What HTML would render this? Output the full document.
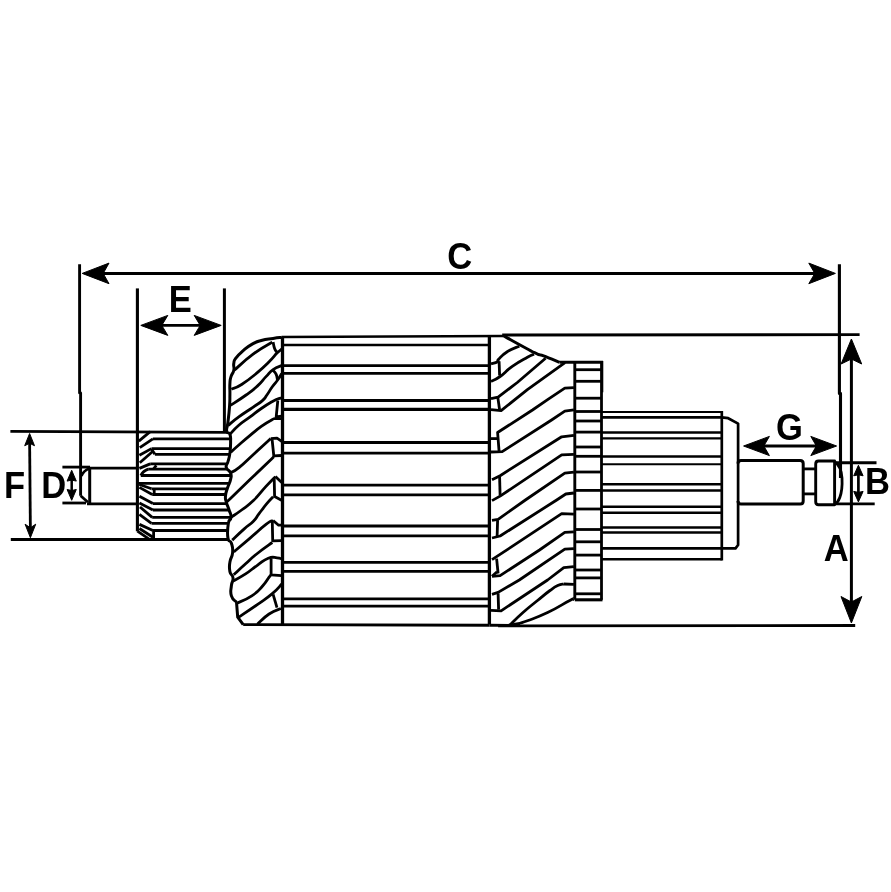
<!DOCTYPE html>
<html><head><meta charset="utf-8"><title>Armature dimensions</title>
<style>
html,body{margin:0;padding:0;background:#fff;}
body{width:891px;height:892px;overflow:hidden;}
svg{display:block;filter:grayscale(1);}
svg text{font-family:"Liberation Sans",Arial,Helvetica,sans-serif;font-weight:bold;}
</style></head><body>
<svg width="891" height="892" viewBox="0 0 891 892" stroke="#000" fill="none" stroke-linecap="butt" stroke-linejoin="round">
<rect x="0" y="0" width="891" height="892" fill="#fff" stroke="none"/>
<path d="M79.6,264.3 L79.6,393 L80.6,393 L80.6,495.8" stroke-width="2.9" fill="none" />
<line x1="95" y1="273.4" x2="822" y2="273.4" stroke-width="3.0" />
<polygon points="82.2,273.4 109.0,263.09999999999997 103.2,273.4 109.0,283.7" fill="#000" stroke="#000" stroke-width="1" stroke-linejoin="round"/>
<polygon points="835.4,273.4 808.8,263.09999999999997 814.8,273.4 808.8,283.7" fill="#000" stroke="#000" stroke-width="1" stroke-linejoin="round"/>
<path d="M839.4,264.2 L839.4,393.4 L840.5,393.4 L840.5,478" stroke-width="3.1" fill="none" />
<line x1="137.4" y1="288.4" x2="137.4" y2="531.3" stroke-width="3.1" />
<line x1="224.4" y1="288.4" x2="224.4" y2="431" stroke-width="3.0" />
<line x1="155" y1="325.4" x2="207" y2="325.4" stroke-width="2.8" />
<polygon points="140.8,325.4 167.8,315.4 161.8,325.4 167.8,335.4" fill="#000" stroke="#000" stroke-width="1" stroke-linejoin="round"/>
<polygon points="221.2,325.4 194.2,315.4 200.2,325.4 194.2,335.4" fill="#000" stroke="#000" stroke-width="1" stroke-linejoin="round"/>
<line x1="10.4" y1="431.4" x2="227" y2="432.4" stroke-width="2.8" />
<line x1="10.8" y1="539.5" x2="228" y2="539.5" stroke-width="3.1" />
<line x1="29.6" y1="440" x2="30.4" y2="531" stroke-width="2.8" />
<polygon points="29.6,433.5 24.700000000000003,445.7 29.6,443.3 34.5,445.7" fill="#000" stroke="#000" stroke-width="1" stroke-linejoin="round"/>
<polygon points="30.4,537.7 25.099999999999998,524.2 30.4,527.8000000000001 35.699999999999996,524.2" fill="#000" stroke="#000" stroke-width="1" stroke-linejoin="round"/>
<line x1="62.4" y1="467.1" x2="90" y2="467.1" stroke-width="2.8" />
<line x1="62.4" y1="503" x2="86" y2="503" stroke-width="2.8" />
<line x1="89" y1="468.2" x2="137.4" y2="468.2" stroke-width="2.8" />
<line x1="87" y1="503.8" x2="137.4" y2="503.8" stroke-width="2.8" />
<line x1="71.7" y1="476" x2="71.7" y2="495" stroke-width="2.5" />
<polygon points="71.7,470.3 67.10000000000001,481.1 71.7,480.1 76.3,481.1" fill="#000" stroke="#000" stroke-width="1" stroke-linejoin="round"/>
<polygon points="71.7,500.3 67.10000000000001,489.5 71.7,490.5 76.3,489.5" fill="#000" stroke="#000" stroke-width="1" stroke-linejoin="round"/>
<line x1="502.2" y1="335" x2="859.6" y2="334.6" stroke-width="2.9" />
<line x1="498.1" y1="625.9" x2="855.2" y2="625.5" stroke-width="2.9" />
<line x1="851.4" y1="355" x2="851.4" y2="605" stroke-width="3.0" />
<polygon points="851.4,339 841.1,364 851.4,359 861.6999999999999,364" fill="#000" stroke="#000" stroke-width="1" stroke-linejoin="round"/>
<polygon points="851.4,623 841.0,596.5 851.4,602.0 861.8,596.5" fill="#000" stroke="#000" stroke-width="1" stroke-linejoin="round"/>
<line x1="834" y1="462.7" x2="876.5" y2="462.7" stroke-width="2.9" />
<line x1="834" y1="503.9" x2="874.7" y2="503.9" stroke-width="2.9" />
<line x1="858.4" y1="472" x2="858.4" y2="495" stroke-width="2.7" />
<polygon points="858.4,465.3 853.6999999999999,475.8 858.4,474.8 863.1,475.8" fill="#000" stroke="#000" stroke-width="1" stroke-linejoin="round"/>
<polygon points="858.4,501.9 853.6999999999999,491.4 858.4,492.4 863.1,491.4" fill="#000" stroke="#000" stroke-width="1" stroke-linejoin="round"/>
<line x1="760" y1="446" x2="820" y2="446" stroke-width="2.9" />
<polygon points="743.6,446 769.4,436.4 763.8000000000001,446 769.4,455.6" fill="#000" stroke="#000" stroke-width="1" stroke-linejoin="round"/>
<polygon points="836.6,446 810.8000000000001,436.4 816.4,446 810.8000000000001,455.6" fill="#000" stroke="#000" stroke-width="1" stroke-linejoin="round"/>
<path d="M80.6,495.8 L88,502.3" stroke-width="2.8" fill="none" />
<path d="M89.6,468.5 Q83.5,470.5 81.4,476" stroke-width="2.7" fill="none" />
<line x1="89.7" y1="467.5" x2="89.7" y2="504" stroke-width="3.0" />
<line x1="152.9" y1="438.8" x2="230.3" y2="438.8" stroke-width="2.8" />
<line x1="151.5" y1="448.6" x2="230.2" y2="448.6" stroke-width="2.8" />
<line x1="154.9" y1="454.3" x2="229.6" y2="454.3" stroke-width="2.8" />
<line x1="150.2" y1="463.9" x2="227.0" y2="463.9" stroke-width="2.8" />
<line x1="148.2" y1="469.1" x2="227.3" y2="469.1" stroke-width="2.8" />
<line x1="140.8" y1="475.5" x2="230.6" y2="475.5" stroke-width="2.8" />
<line x1="137.4" y1="483.4" x2="229.2" y2="483.4" stroke-width="2.8" />
<line x1="151.5" y1="488.8" x2="227.3" y2="488.8" stroke-width="2.8" />
<line x1="152.2" y1="494.5" x2="225.8" y2="494.5" stroke-width="2.8" />
<line x1="152.9" y1="503.6" x2="226.8" y2="503.6" stroke-width="2.8" />
<line x1="152.9" y1="510" x2="229.1" y2="510" stroke-width="2.8" />
<line x1="152.2" y1="517.4" x2="231.0" y2="517.4" stroke-width="2.8" />
<line x1="151.5" y1="523.4" x2="228.4" y2="523.4" stroke-width="2.8" />
<line x1="152.9" y1="530.5" x2="228.1" y2="530.5" stroke-width="2.8" />
<line x1="150.2" y1="431.7" x2="138.8" y2="441.2" stroke-width="2.8" />
<line x1="152.9" y1="438.8" x2="139.8" y2="447.6" stroke-width="2.8" />
<line x1="151.5" y1="448.6" x2="139.4" y2="455.3" stroke-width="2.8" />
<line x1="151.5" y1="449" x2="154.9" y2="454.3" stroke-width="2.8" />
<line x1="152.9" y1="451.3" x2="139.8" y2="462.7" stroke-width="2.8" />
<line x1="150.2" y1="463.9" x2="139.4" y2="468.4" stroke-width="2.8" />
<line x1="156.3" y1="465.4" x2="153.6" y2="468.8" stroke-width="2.8" />
<line x1="151.5" y1="488.8" x2="139.4" y2="484.5" stroke-width="2.8" />
<line x1="154.2" y1="488.8" x2="154.2" y2="494.5" stroke-width="2.8" />
<line x1="152.2" y1="494.5" x2="139.4" y2="487.4" stroke-width="2.8" />
<line x1="152.9" y1="503.6" x2="139.4" y2="496.2" stroke-width="2.8" />
<line x1="152.9" y1="510" x2="139.4" y2="502.9" stroke-width="2.8" />
<line x1="152.2" y1="517.4" x2="140" y2="507" stroke-width="2.8" />
<line x1="151.5" y1="523.4" x2="139.4" y2="514.3" stroke-width="2.8" />
<line x1="152.9" y1="530.5" x2="139.4" y2="524.4" stroke-width="2.8" />
<line x1="137.4" y1="531.2" x2="149.5" y2="539.3" stroke-width="2.8" />
<line x1="139.4" y1="528.5" x2="152.9" y2="537.2" stroke-width="2.8" />
<line x1="153.6" y1="530.5" x2="153.6" y2="539.3" stroke-width="2.8" />
<path d="M148.2,469.1 Q143,471 140.8,475.5" stroke-width="2.8" fill="none" />
<line x1="282.5" y1="336.8" x2="282.5" y2="624.4" stroke-width="3.3" />
<line x1="489.4" y1="336.8" x2="489.4" y2="624.4" stroke-width="3.3" />
<line x1="281.5" y1="337.0" x2="503" y2="336.0" stroke-width="2.5" />
<line x1="243.2" y1="624.6" x2="489.4" y2="625.2" stroke-width="2.9" />
<line x1="489.4" y1="625.2" x2="520" y2="625.4" stroke-width="2.9" />
<line x1="282.5" y1="344.9" x2="489.4" y2="344.9" stroke-width="2.5" />
<line x1="282.5" y1="365.6" x2="489.4" y2="365.6" stroke-width="2.9" />
<line x1="282.5" y1="373.3" x2="489.4" y2="373.3" stroke-width="2.8" />
<line x1="282.5" y1="400.4" x2="489.4" y2="400.4" stroke-width="3.0" />
<line x1="282.5" y1="409.4" x2="489.4" y2="409.4" stroke-width="3.1" />
<line x1="282.5" y1="442.4" x2="489.4" y2="442.4" stroke-width="3.0" />
<line x1="282.5" y1="453.1" x2="489.4" y2="453.1" stroke-width="2.8" />
<line x1="282.5" y1="485.1" x2="489.4" y2="485.1" stroke-width="2.9" />
<line x1="282.5" y1="494.9" x2="489.4" y2="494.9" stroke-width="2.7" />
<line x1="282.5" y1="526" x2="489.4" y2="526" stroke-width="2.9" />
<line x1="282.5" y1="535.9" x2="489.4" y2="535.9" stroke-width="2.8" />
<line x1="282.5" y1="562.4" x2="489.4" y2="562.4" stroke-width="2.9" />
<line x1="282.5" y1="571.4" x2="489.4" y2="571.4" stroke-width="2.8" />
<line x1="282.5" y1="598.8" x2="489.4" y2="598.8" stroke-width="2.8" />
<line x1="282.5" y1="606.2" x2="489.4" y2="606.2" stroke-width="2.8" />
<path d="M281.7,337.4 C279.26,337.71 278.88,337.62 273.1,338.5 C267.32,339.38 267.34,338.83 261.3,340.5 C255.27,342.17 256.93,341.51 251.8,344.4 C246.67,347.29 247.65,346.90 243.2,350.7 C238.75,354.50 238.76,354.23 236.1,357.8 C233.44,361.37 234.45,359.76 233.8,363.3 C233.15,366.84 234.59,366.53 233.8,370.3 C233.01,374.07 232.10,372.80 231,376.6 C229.90,380.40 230.21,378.57 229.9,383.7 C229.59,388.83 230.01,388.15 229.9,394.7 C229.79,401.25 230.07,398.92 229.5,406.8 C228.93,414.68 228.69,415.62 227.9,422.5 C227.11,429.38 226.13,427.76 226.7,431.1 C227.27,434.44 228.80,431.18 229.9,434.3 C231.00,437.42 230.60,436.77 230.6,442.1 C230.60,447.43 230.66,447.52 229.9,453.1 C229.14,458.68 228.86,458.43 227.9,461.8 C226.94,465.17 226.84,463.13 226.5,465 C226.16,466.87 225.54,466.10 226.7,468.4 C227.86,470.69 229.50,469.98 230.6,473.1 C231.70,476.22 231.48,475.18 230.6,479.4 C229.72,483.62 228.94,483.35 227.5,488 C226.06,492.65 225.84,491.81 225.5,495.8 C225.16,499.80 225.28,498.08 226.3,502.1 C227.32,506.12 227.77,505.69 229.1,510 C230.43,514.31 231.23,513.45 231,517.3 C230.77,521.15 229.18,517.79 228.3,523.6 C227.42,529.41 227.02,532.22 227.9,537.8 C228.78,543.38 230.07,539.08 231.4,543.3 C232.73,547.52 233.03,547.37 232.6,552.7 C232.17,558.03 230.66,556.75 229.9,562.1 C229.14,567.46 229.02,567.12 229.9,571.6 C230.78,576.08 232.57,573.90 233,577.9 C233.43,581.89 231.85,580.60 231.4,585.7 C230.95,590.80 229.96,591.23 231.4,595.9 C232.84,600.57 235.06,600.42 236.5,602.2" stroke-width="3.0" fill="none" />
<path d="M236.5,602.2 L237.7,617.1 L243.2,624.6" stroke-width="3.0" fill="none" />
<path d="M234.2,370.3 C239.32,365.93 243.24,361.42 253.4,353.9 C263.56,346.38 267.26,345.25 272.3,342.1" stroke-width="2.8" fill="none" />
<path d="M231.4,389.2 C234.12,387.95 234.69,388.90 241.6,384.5 C248.51,380.10 249.97,378.78 257.3,372.7 C264.63,366.62 263.85,366.93 269.1,361.7 C274.35,356.47 273.64,356.46 277,353.1 C280.36,349.74 280.45,350.17 281.7,349.1" stroke-width="2.8" fill="none" />
<path d="M229.9,405.7 C234.22,402.85 238.79,400.23 246.1,395 C253.41,389.77 251.99,391.01 257.3,386.1 C262.61,381.19 261.79,381.00 266,376.6 C270.21,372.20 268.91,372.53 273.1,369.6 C277.29,366.67 279.41,366.67 281.7,365.6" stroke-width="2.8" fill="none" />
<path d="M228.2,425.3 C231.03,423.06 232.21,421.70 238.8,416.9 C245.39,412.10 246.61,411.65 252.9,407.3 C259.19,402.95 258.67,403.88 262.4,400.6 C266.13,397.32 264.26,398.68 266.9,395 C269.54,391.32 269.39,390.85 272.3,386.8 C275.21,382.75 275.29,383.35 277.8,379.8 C280.31,376.25 280.66,375.18 281.7,373.5" stroke-width="2.8" fill="none" />
<path d="M229.9,434.3 C232.27,431.90 233.41,429.94 238.8,425.3 C244.19,420.66 244.10,421.38 250.1,416.9 C256.10,412.42 255.46,412.55 261.3,408.5 C267.14,404.45 267.81,404.15 272,401.7 C276.19,399.25 274.41,400.34 277,399.3 C279.59,398.26 280.45,398.20 281.7,397.8" stroke-width="2.8" fill="none" />
<path d="M230.6,452.3 C232.79,450.35 233.60,449.51 238.8,445 C244.00,440.49 244.10,440.36 250.1,435.4 C256.10,430.44 255.46,430.59 261.3,426.4 C267.14,422.21 268.03,421.78 272,419.7 C275.97,417.62 273.61,418.89 276.2,418.6 C278.79,418.31 280.23,418.60 281.7,418.6" stroke-width="2.8" fill="none" />
<path d="M230.6,472.7 C232.92,471.29 232.93,472.52 239.3,467.4 C245.67,462.28 246.13,461.18 254.5,453.5 C262.87,445.82 266.38,442.57 270.7,438.6" stroke-width="2.8" fill="none" />
<path d="M226.7,502.1 C232.78,496.23 236.94,492.18 249.5,480.1 C262.06,468.02 267.32,463.01 273.8,456.8" stroke-width="2.8" fill="none" />
<path d="M231.4,517.1 C234.12,515.21 235.73,514.40 241.6,510 C247.47,505.60 246.89,506.89 253.4,500.6 C259.91,494.31 260.13,492.80 266,486.4 C271.87,480.00 272.89,479.21 275.4,476.6" stroke-width="2.8" fill="none" />
<path d="M232.2,540.1 C235.35,537.17 238.35,534.11 244,529.1 C249.65,524.09 249.43,525.35 253.4,521.3 C257.37,517.25 255.33,518.59 258.9,513.9 C262.47,509.21 263.01,508.26 266.8,503.7 C270.59,499.14 271.42,498.64 273.1,496.8" stroke-width="2.8" fill="none" />
<path d="M233.8,551.9 C237.99,548.35 240.91,545.93 249.5,538.6 C258.09,531.27 259.71,529.23 266,524.4 C272.29,519.57 271.21,521.54 273.1,520.5" stroke-width="2.8" fill="none" />
<path d="M233.8,574.7 C236.95,571.77 239.33,569.35 245.6,563.7 C251.87,558.05 250.18,559.15 257.3,553.5 C264.42,547.85 268.30,545.43 272.3,542.5" stroke-width="2.8" fill="none" />
<path d="M233,581 C236.36,579.11 239.12,578.09 245.6,573.9 C252.08,569.71 251.25,569.49 257.3,565.3 C263.35,561.11 263.05,560.20 268.3,558.2 C273.55,556.20 273.43,557.59 277,557.8 C280.57,558.01 280.45,558.68 281.7,559" stroke-width="2.8" fill="none" />
<path d="M236.7,603.2 C240.73,601.25 244.84,600.57 251.8,595.9 C258.76,591.23 258.19,590.71 262.8,585.7 C267.41,580.69 266.94,579.98 269.1,577.1 C271.26,574.22 270.42,575.49 270.9,574.9" stroke-width="2.8" fill="none" />
<path d="M238,617.6 C243.15,614.13 248.15,611.00 257.3,604.6 C266.45,598.20 265.79,599.07 272.3,593.6 C278.81,588.13 279.19,586.63 281.7,584.1" stroke-width="2.8" fill="none" />
<path d="M257.3,624.2 C260.45,621.48 262.81,618.19 269.1,614 C275.39,609.81 277.75,609.97 280.9,608.5" stroke-width="2.8" fill="none" />
<path d="M273.1,342.1 C273.50,343.78 273.56,345.68 274.6,348.4 C275.64,351.12 276.36,351.26 277,352.3" stroke-width="2.8" fill="none" />
<path d="M273.1,370.3 C273.93,371.37 275.05,371.77 276.2,374.3 C277.35,376.83 277.08,378.33 277.4,379.8" stroke-width="2.8" fill="none" />
<path d="M277.8,400.5 L276.2,416.8 L281.5,416.2" stroke-width="2.8" fill="none" />
<path d="M270.7,438.6 L277,438.2 L281.7,441.3" stroke-width="2.8" fill="none" />
<path d="M272.1,439.5 L273.8,455.8 L281.5,455.5" stroke-width="2.8" fill="none" />
<path d="M275.4,476.6 L281.7,482.5" stroke-width="2.8" fill="none" />
<path d="M274.2,478.5 L274.6,496.6 L281.5,500.2" stroke-width="2.8" fill="none" />
<path d="M273.1,520.5 L278.6,525.2 L281.7,525.2" stroke-width="2.8" fill="none" />
<path d="M272.3,522 L272.7,540.9 L281.5,540.6" stroke-width="2.8" fill="none" />
<path d="M271.1,559 L271.1,574.9 L281.5,575.6" stroke-width="2.8" fill="none" />
<path d="M273.1,594.4 L277,607.7" stroke-width="2.8" fill="none" />
<path d="M503.2,335.6 C509.46,339.02 526.42,348.66 534.5,352.7 C542.58,356.74 538.56,353.88 543.6,355.8 C548.64,357.72 556.48,361.00 559.7,362.3" stroke-width="3.0" fill="none" />
<line x1="559.7" y1="362.3" x2="603" y2="362.3" stroke-width="3.0" />
<path d="M491,363.8 C492.76,363.27 495.57,363.00 497.6,361.8 C499.63,360.60 496.04,361.99 498.6,359.3 C501.16,356.61 501.68,355.19 507.2,351.7 C512.72,348.21 516.07,347.67 519.3,346.2" stroke-width="2.8" fill="none" />
<path d="M491,381.5 C493.43,380.17 494.42,380.53 500.1,376.5 C505.78,372.47 505.02,371.52 512.3,366.4 C519.58,361.28 521.61,360.55 527.4,357.3 C533.19,354.05 532.24,355.03 534,354.2" stroke-width="2.8" fill="none" />
<path d="M510.2,624.7 C513.61,621.45 515.72,618.95 523,612.5 C530.28,606.05 530.30,606.37 537.5,600.5 C544.70,594.63 544.61,594.47 550,590.5 C555.39,586.53 554.02,587.33 557.7,585.6 C561.38,583.87 562.17,584.43 563.8,584" stroke-width="2.8" fill="none" />
<path d="M573.9,599.5 C572.81,599.77 576.81,597.01 569.8,600.5 C562.79,603.99 558.91,607.21 547.6,612.6 C536.29,617.99 536.01,617.61 527.4,620.7 C518.79,623.79 520.47,622.97 515.3,624.2 C510.13,625.43 509.95,625.01 508,625.3" stroke-width="2.8" fill="none" />
<path d="M563.8,584 L573.9,584.4" stroke-width="2.8" fill="none" />
<path d="M499.1,361.3 L499.6,375.5" stroke-width="2.8" fill="none" />
<path d="M491,398.7 L498.1,397.2 L517.3,382.5 L545.6,358.3" stroke-width="2.8" fill="none" />
<path d="M497.8,397.4 L499.6,409.8" stroke-width="2.8" fill="none" />
<path d="M491,409.6 L501.1,410.6 L527.4,389.6 L565,362.6" stroke-width="2.8" fill="none" />
<path d="M491,438.6 L497.6,438.6" stroke-width="2.8" fill="none" />
<path d="M499.1,451.6 L497.6,432.5 L532.5,410 L547.6,399.7 L564.8,388.1 L573.9,387.6" stroke-width="2.8" fill="none" />
<path d="M491,452 L502.2,451.6 L551.6,420 L564.8,411.2 L573.9,409.9" stroke-width="2.8" fill="none" />
<path d="M492,479.7 L500.1,475.7 L561.7,436.8 L573.9,435.3" stroke-width="2.8" fill="none" />
<path d="M499.6,476.7 L500.1,495.5" stroke-width="2.8" fill="none" />
<path d="M492,500.6 L500.1,496.1 L561.7,454.9 L573.9,454.4" stroke-width="2.8" fill="none" />
<path d="M492,520.3 L498.1,519.3 L525.4,500 L564.8,473.1 L573.9,472.1" stroke-width="2.8" fill="none" />
<path d="M497.6,520.3 L497.1,537" stroke-width="2.8" fill="none" />
<path d="M492,538 L500.1,536 L556.7,500 L565.8,494 L573.9,493" stroke-width="2.8" fill="none" />
<path d="M492,559.7 L498.1,555.7 L561.7,513.7 L573.9,514.2" stroke-width="2.8" fill="none" />
<path d="M496.6,558.7 L498.1,573.5" stroke-width="2.8" fill="none" />
<path d="M492,576.3 L497.1,571.7" stroke-width="2.8" fill="none" />
<path d="M492,576.3 L500.1,575.6 L539.5,550 L564.8,532.4 L573.9,531.9" stroke-width="2.8" fill="none" />
<path d="M492,594.4 L498.1,592.4 L519.3,580 L564.8,549.1 L573.9,548.6" stroke-width="2.8" fill="none" />
<path d="M498.1,593.4 L498.6,609.6" stroke-width="2.8" fill="none" />
<path d="M491,610.3 L501.1,610.8 L547.6,580 L563.8,567.7 L573.9,566.7" stroke-width="2.8" fill="none" />
<line x1="574.8" y1="361.7" x2="574.8" y2="599.8" stroke-width="2.9" />
<line x1="601.5" y1="361.7" x2="601.5" y2="599.8" stroke-width="2.8" />
<line x1="602.4" y1="361" x2="602.4" y2="392.3" stroke-width="1.8" />
<line x1="574.8" y1="599.8" x2="602.5" y2="599.8" stroke-width="3.1" />
<line x1="574.8" y1="369.7" x2="601.5" y2="369.7" stroke-width="2.8" />
<line x1="574.8" y1="381.3" x2="601.5" y2="381.3" stroke-width="2.8" />
<line x1="574.8" y1="398.2" x2="601.5" y2="398.2" stroke-width="2.8" />
<line x1="574.8" y1="411.5" x2="601.5" y2="411.5" stroke-width="2.8" />
<line x1="574.8" y1="421" x2="601.5" y2="421" stroke-width="2.8" />
<line x1="574.8" y1="432.1" x2="601.5" y2="432.1" stroke-width="2.8" />
<line x1="574.8" y1="447" x2="601.5" y2="447" stroke-width="2.8" />
<line x1="574.8" y1="456.3" x2="601.5" y2="456.3" stroke-width="2.8" />
<line x1="574.8" y1="472" x2="601.5" y2="472" stroke-width="2.8" />
<line x1="574.8" y1="490.4" x2="601.5" y2="490.4" stroke-width="2.8" />
<line x1="574.8" y1="509" x2="601.5" y2="509" stroke-width="2.8" />
<line x1="574.8" y1="529.5" x2="601.5" y2="529.5" stroke-width="2.8" />
<line x1="574.8" y1="541.8" x2="601.5" y2="541.8" stroke-width="2.8" />
<line x1="574.8" y1="555.1" x2="601.5" y2="555.1" stroke-width="2.8" />
<line x1="574.8" y1="570" x2="601.5" y2="570" stroke-width="2.8" />
<line x1="574.8" y1="577.9" x2="601.5" y2="577.9" stroke-width="2.8" />
<line x1="574.8" y1="593.8" x2="601.5" y2="593.8" stroke-width="2.8" />
<line x1="601.5" y1="412.1" x2="721.8" y2="412.1" stroke-width="2.0" />
<line x1="601.5" y1="417.3" x2="721.8" y2="417.3" stroke-width="2.7" />
<line x1="601.5" y1="432.5" x2="721.8" y2="432.5" stroke-width="2.4" />
<line x1="601.5" y1="438.4" x2="721.8" y2="438.4" stroke-width="2.1" />
<line x1="601.5" y1="456.5" x2="721.8" y2="456.5" stroke-width="2.4" />
<line x1="601.5" y1="464.3" x2="721.8" y2="464.3" stroke-width="2.1" />
<line x1="601.5" y1="484.3" x2="721.8" y2="484.3" stroke-width="2.5" />
<line x1="601.5" y1="490.4" x2="721.8" y2="490.4" stroke-width="2.5" />
<line x1="601.5" y1="506.7" x2="721.8" y2="506.7" stroke-width="2.5" />
<line x1="601.5" y1="512.7" x2="721.8" y2="512.7" stroke-width="2.5" />
<line x1="601.5" y1="527.4" x2="721.8" y2="527.4" stroke-width="2.5" />
<line x1="601.5" y1="532.6" x2="721.8" y2="532.6" stroke-width="2.5" />
<line x1="601.5" y1="548.4" x2="721.8" y2="548.4" stroke-width="2.6" />
<line x1="601.5" y1="559.2" x2="721.8" y2="559.2" stroke-width="2.6" />
<line x1="721.8" y1="411" x2="721.8" y2="560.5" stroke-width="2.7" />
<path d="M721.8,417.3 L728.2,418.2 L738.1,423.6 L738.1,545 L735.5,548.3 L721.8,548.4" stroke-width="2.7" fill="none" />
<path d="M738,463.5 Q738,460.5 741,460.5 L800.2,460.5 Q803.2,460.5 803.2,463.5 L803.2,500.9 Q803.2,503.9 800.2,503.9 L741,503.9 Q738,503.9 738,500.9" stroke-width="3.0" fill="none" />
<line x1="803.2" y1="468.9" x2="815.7" y2="468.9" stroke-width="2.8" />
<line x1="803.2" y1="493.9" x2="815.7" y2="493.9" stroke-width="2.8" />
<path d="M834.6,461 L818.5,461 Q815.7,461 815.7,464 L815.7,501.8 Q815.7,504.8 818.5,504.8 L834.6,504.8 Z" stroke-width="2.9" fill="none" />
<path d="M834.8,462 Q841,465.5 842,478 Q842.6,490 839.8,497.5 Q838,502.5 834.8,504" stroke-width="2.8" fill="none" />
<text transform="translate(447.2,269) scale(0.96,1)" font-size="36" stroke="none" fill="#000">C</text>
<text transform="translate(168.8,311.6) scale(0.96,1)" font-size="36" stroke="none" fill="#000">E</text>
<text transform="translate(3.9,497.9) scale(0.96,1)" font-size="36" stroke="none" fill="#000">F</text>
<text transform="translate(41.3,497.9) scale(0.96,1)" font-size="36" stroke="none" fill="#000">D</text>
<text transform="translate(776.1,440) scale(0.96,1)" font-size="36" stroke="none" fill="#000">G</text>
<text transform="translate(865,494.4) scale(0.96,1)" font-size="36" stroke="none" fill="#000">B</text>
<text transform="translate(823.8,560.7) scale(0.96,1)" font-size="36" stroke="none" fill="#000">A</text>
</svg>
</body></html>
